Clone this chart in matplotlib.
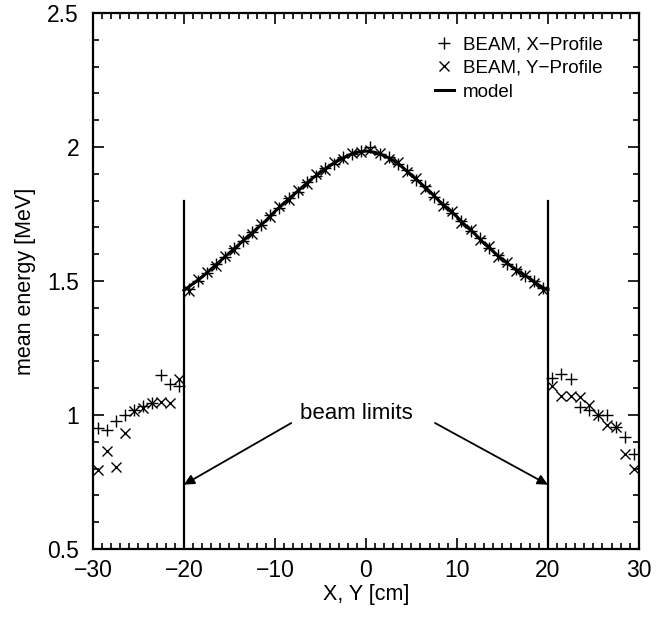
import numpy as np
import matplotlib
matplotlib.use('Agg')
import matplotlib.pyplot as plt
from matplotlib.ticker import MultipleLocator

plt.rcParams['font.family'] = ['Liberation Sans', 'DejaVu Sans']

# model curve (inside beam limits)
x_model = np.arange(-20, 21)
e_model = [1.465, 1.49, 1.515, 1.545, 1.575, 1.605, 1.635, 1.665, 1.695, 1.725,
           1.76, 1.79, 1.82, 1.85, 1.88, 1.905, 1.93, 1.95, 1.968, 1.98,
           1.985, 1.98, 1.968, 1.95, 1.925, 1.895, 1.865, 1.835, 1.80, 1.77,
           1.74, 1.705, 1.675, 1.64, 1.61, 1.58, 1.555, 1.53, 1.51, 1.485, 1.465]

# BEAM profiles, bin centres -29.5 ... 29.5
x_bins = np.arange(-29.5, 30, 1.0)
e_xprof = [0.95, 0.944, 0.979, 1.0, 1.018, 1.034, 1.044, 1.149, 1.116, 1.108,
           1.470, 1.500, 1.528, 1.562, 1.588, 1.622, 1.648, 1.683, 1.708, 1.745,
           1.772, 1.808, 1.833, 1.868, 1.890, 1.921, 1.938, 1.962, 1.972, 1.985,
           2.000, 1.972, 1.962, 1.935, 1.913, 1.877, 1.853, 1.815, 1.788, 1.752,
           1.725, 1.686, 1.661, 1.622, 1.598, 1.565, 1.546, 1.517, 1.500, 1.472,
           1.137, 1.153, 1.134, 1.031, 1.019, 1.0, 1.0, 0.956, 0.919, 0.853]
e_yprof = [0.795, 0.867, 0.807, 0.933, 1.016, 1.025, 1.045, 1.05, 1.046, 1.134,
           1.462, 1.508, 1.533, 1.556, 1.594, 1.616, 1.655, 1.677, 1.714, 1.738,
           1.780, 1.801, 1.840, 1.860, 1.898, 1.915, 1.944, 1.955, 1.978, 1.980,
           1.990, 1.978, 1.955, 1.943, 1.905, 1.884, 1.845, 1.822, 1.780, 1.760,
           1.716, 1.694, 1.652, 1.630, 1.590, 1.572, 1.538, 1.524, 1.494, 1.466,
           1.108, 1.071, 1.071, 1.068, 1.037, 1.0, 0.963, 0.954, 0.853, 0.798]

beam_limits = [-20, 20]

fig = plt.figure(figsize=(6.71, 6.18), dpi=100)
ax = fig.add_axes([0.1386, 0.1117, 0.8134, 0.8673])

ax.plot(x_bins, e_xprof, '+', color='k', ms=8.5, mew=1.0, label='BEAM, X\u2212Profile')
ax.plot(x_bins, e_yprof, 'x', color='k', ms=6.5, mew=1.0, label='BEAM, Y\u2212Profile')
ax.plot(x_model, e_model, '-', color='k', lw=2.2, label='model')

for xb in beam_limits:
    ax.plot([xb, xb], [0.5, 1.8], '-', color='k', lw=1.6)

ax.text(-1, 1.005, 'beam limits', ha='center', va='center', fontsize=16)
ax.annotate('', xy=(-20, 0.74), xytext=(-8.2, 0.97),
            arrowprops=dict(arrowstyle='-|>', color='k', lw=1.3, mutation_scale=15, shrinkA=0, shrinkB=0))
ax.annotate('', xy=(20, 0.74), xytext=(7.6, 0.97),
            arrowprops=dict(arrowstyle='-|>', color='k', lw=1.3, mutation_scale=15, shrinkA=0, shrinkB=0))

ax.set_xlim(-30, 30)
ax.set_ylim(0.5, 2.5)
ax.xaxis.set_minor_locator(MultipleLocator(1))
ax.yaxis.set_minor_locator(MultipleLocator(0.1))
ax.set_xticks([-30, -20, -10, 0, 10, 20, 30])
ax.set_xticklabels(['\u221230', '\u221220', '\u221210', '0', '10', '20', '30'])
ax.set_yticks([0.5, 1, 1.5, 2, 2.5])
ax.set_yticklabels(['0.5', '1', '1.5', '2', '2.5'])
ax.tick_params(which='both', direction='in', top=True, right=True, labelsize=16.5, width=1.2)
ax.tick_params(which='major', length=8)
ax.tick_params(which='minor', length=4)
ax.tick_params(axis='x', which='major', pad=7)
ax.tick_params(axis='y', which='major', pad=10)
for sp in ax.spines.values():
    sp.set_linewidth(1.6)

ax.set_xlabel('X, Y [cm]', fontsize=15.5, labelpad=2)
ax.set_ylabel('mean energy [MeV]', fontsize=15.5, labelpad=8)

ax.legend(loc='upper right', bbox_to_anchor=(0.948, 0.971), frameon=False, fontsize=13.5,
          handlelength=1.0, handletextpad=0.5, labelspacing=0.35, borderaxespad=0)

plt.savefig('out.png', dpi=100)
plt.close()
